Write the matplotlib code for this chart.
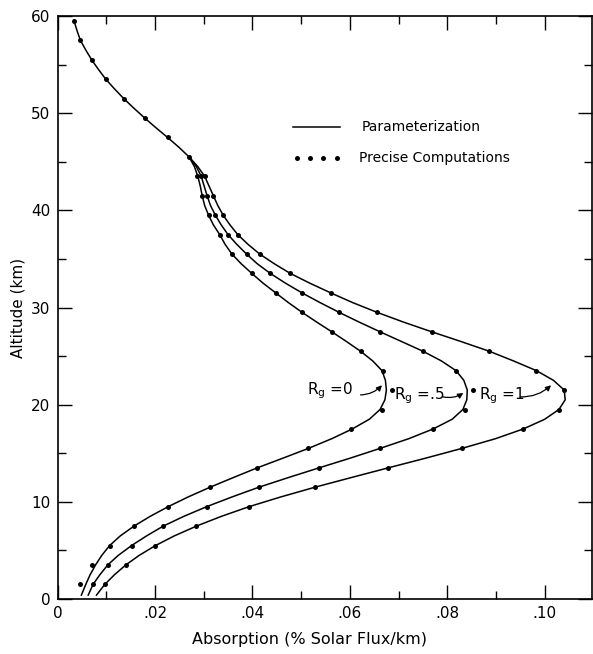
import matplotlib
matplotlib.use("Agg")
import matplotlib.pyplot as plt
from matplotlib.ticker import MultipleLocator, FixedFormatter, FixedLocator

# altitudes of the precise computations (km)
alt_pts = [1.5, 3.5, 5.5, 7.5, 9.5, 11.5, 13.5, 15.5, 17.5, 19.5, 21.5,
           23.5, 25.5, 27.5, 29.5, 31.5, 33.5, 35.5, 37.5, 39.5, 41.5, 43.5]
alt_top = [45.5, 47.5, 49.5, 51.5, 53.5, 55.5, 57.5, 59.5]

# precise computations, absorption in % solar flux / km
pts_rg0 = [0.0046, 0.0071, 0.0107, 0.0157, 0.0227, 0.0313, 0.0410, 0.0515,
           0.0603, 0.0667, 0.0686, 0.0669, 0.0622, 0.0563, 0.0502, 0.0448,
           0.0399, 0.0358, 0.0333, 0.0310, 0.0297, 0.0287]
pts_rg05 = [0.0073, 0.0103, 0.0152, 0.0217, 0.0306, 0.0413, 0.0537, 0.0662,
            0.0771, 0.0836, 0.0853, 0.0818, 0.0750, 0.0662, 0.0578, 0.0502,
            0.0437, 0.0388, 0.0350, 0.0324, 0.0307, 0.0295]
pts_rg1 = [0.0097, 0.0140, 0.0201, 0.0285, 0.0393, 0.0528, 0.0679, 0.0830,
           0.0956, 0.1029, 0.1040, 0.0983, 0.0886, 0.0768, 0.0656, 0.0561,
           0.0478, 0.0415, 0.0370, 0.0340, 0.0320, 0.0302]
pts_top = [0.0270, 0.0226, 0.0179, 0.0136, 0.0099, 0.0070, 0.0047, 0.0034]

# parameterization curves, 1 km steps
alt_line = [0.4, 1.5, 2.5, 3.5, 4.5, 5.5, 6.5, 7.5, 8.5, 9.5, 10.5, 11.5,
            12.5, 13.5, 14.5, 15.5, 16.5, 17.5, 18.5, 19.5, 20.5, 21.5,
            22.5, 23.5, 24.5, 25.5, 26.5, 27.5, 28.5, 29.5, 30.5, 31.5,
            32.5, 33.5, 34.5, 35.5, 36.5, 37.5, 38.5, 39.5, 40.5, 41.5,
            42.5, 43.5, 44.5, 45.5]
line_rg0 = [0.0049, 0.0058, 0.0067, 0.0078, 0.0091, 0.0107, 0.0129, 0.0157,
            0.0190, 0.0227, 0.0268, 0.0313, 0.0361, 0.0410, 0.0463, 0.0515,
            0.0563, 0.0605, 0.0640, 0.0662, 0.0672, 0.0675, 0.0673, 0.0666,
            0.0647, 0.0622, 0.0593, 0.0563, 0.0532, 0.0502, 0.0474, 0.0448,
            0.0422, 0.0399, 0.0377, 0.0358, 0.0344, 0.0333, 0.0320, 0.0310,
            0.0302, 0.0297, 0.0293, 0.0288, 0.0281, 0.0270]
line_rg05 = [0.0063, 0.0073, 0.0087, 0.0103, 0.0125, 0.0152, 0.0183, 0.0217,
             0.0259, 0.0306, 0.0358, 0.0413, 0.0474, 0.0537, 0.0601, 0.0662,
             0.0721, 0.0771, 0.0810, 0.0832, 0.0840, 0.0841, 0.0834, 0.0818,
             0.0788, 0.0750, 0.0706, 0.0662, 0.0619, 0.0578, 0.0539, 0.0502,
             0.0468, 0.0437, 0.0410, 0.0388, 0.0368, 0.0350, 0.0336, 0.0324,
             0.0314, 0.0307, 0.0301, 0.0295, 0.0285, 0.0270]
line_rg1 = [0.0080, 0.0097, 0.0117, 0.0140, 0.0168, 0.0201, 0.0240, 0.0285,
            0.0336, 0.0393, 0.0458, 0.0528, 0.0603, 0.0679, 0.0756, 0.0830,
            0.0899, 0.0956, 0.1000, 0.1029, 0.1042, 0.1040, 0.1018, 0.0983,
            0.0936, 0.0886, 0.0828, 0.0768, 0.0710, 0.0656, 0.0606, 0.0561,
            0.0518, 0.0478, 0.0445, 0.0415, 0.0391, 0.0370, 0.0354, 0.0340,
            0.0329, 0.0320, 0.0311, 0.0302, 0.0288, 0.0270]
alt_line_top = [45.5, 46.5, 47.5, 48.5, 49.5, 50.5, 51.5, 52.5, 53.5, 54.5,
                55.5, 56.5, 57.5, 58.5, 59.5]
line_top = [0.0270, 0.0249, 0.0226, 0.0202, 0.0179, 0.0157, 0.0136, 0.0117,
            0.0099, 0.0084, 0.0070, 0.0058, 0.0047, 0.0040, 0.0034]

x_ticks = [0, 0.02, 0.04, 0.06, 0.08, 0.10]
x_ticklabels = ["0", ".02", ".04", ".06", ".08", ".10"]

plt.rcParams["font.family"] = "DejaVu Sans"

fig = plt.figure(figsize=(5.93, 6.54), dpi=100)
ax = fig.add_axes([57.5 / 593, 1 - 599 / 654, 534.5 / 593, 583 / 654])

for xs in (line_rg0, line_rg05, line_rg1):
    ax.plot(xs, alt_line, color="black", lw=1.1, solid_joinstyle="round")
ax.plot(line_top, alt_line_top, color="black", lw=1.1, solid_joinstyle="round")

for xs in (pts_rg0, pts_rg05, pts_rg1):
    ax.plot(xs, alt_pts, "o", color="black", ms=3.6, mew=0)
ax.plot(pts_top, alt_top, "o", color="black", ms=3.6, mew=0)

ax.set_xlim(0, 0.1097)
ax.set_ylim(0, 60)

ax.xaxis.set_major_locator(FixedLocator(x_ticks))
ax.xaxis.set_major_formatter(FixedFormatter(x_ticklabels))
ax.xaxis.set_minor_locator(MultipleLocator(0.01))
ax.yaxis.set_major_locator(MultipleLocator(10))
ax.yaxis.set_minor_locator(MultipleLocator(5))
ax.tick_params(which="both", direction="in", top=True, right=True,
               labelsize=11, width=1.0, pad=5)
ax.tick_params(which="major", length=10)
ax.tick_params(which="minor", length=6)
for sp in ax.spines.values():
    sp.set_linewidth(1.2)

ax.set_xlabel("Absorption (% Solar Flux/km)", fontsize=11.5)
ax.xaxis.set_label_coords(0.472, -0.057)
ax.set_ylabel("Altitude (km)", fontsize=11, labelpad=4)

# legend drawn by hand
ax.plot([0.440, 0.528], [0.810, 0.810], color="black", lw=1.1,
        transform=ax.transAxes)
ax.text(0.569, 0.810, "Parameterization", transform=ax.transAxes,
        ha="left", va="center", fontsize=10)
ax.plot([0.448, 0.472, 0.497, 0.522], [0.756] * 4, "o", color="black",
        ms=3.6, mew=0, transform=ax.transAxes)
ax.text(0.565, 0.756, "Precise Computations", transform=ax.transAxes,
        ha="left", va="center", fontsize=10)

# curve labels with arrows
labels = [
    ("R$_\\mathregular{g}$ =0", 0.0512, 21.4, (0.0622, 21.0), (0.0666, 22.0)),
    ("R$_\\mathregular{g}$ =.5", 0.0690, 20.9, (0.0791, 20.8), (0.0833, 21.2)),
    ("R$_\\mathregular{g}$ =1", 0.0866, 20.9, (0.0950, 20.8), (0.1013, 22.0)),
]
for txt, tx, ty, tail, head in labels:
    ax.text(tx, ty, txt, ha="left", va="center", fontsize=11)
    ax.annotate("", xy=head, xytext=tail,
                arrowprops=dict(arrowstyle="-|>", color="black", lw=0.9,
                                mutation_scale=8,
                                connectionstyle="arc3,rad=0.2",
                                shrinkA=0, shrinkB=0))

fig.savefig("out.png", dpi=100)
